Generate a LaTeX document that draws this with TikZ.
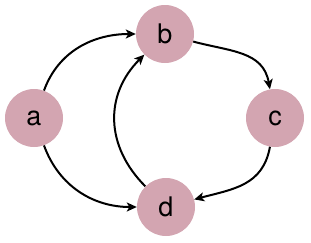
\documentclass[tikz,border=0pt]{standalone}
\usepackage{fontspec}
\setmainfont{TeX Gyre Heros}
\usetikzlibrary{arrows.meta}
\definecolor{nodepink}{RGB}{211,165,177}
\begin{document}
\begin{tikzpicture}[
    x=1pt, y=1pt,
    vertex/.style={circle, fill=nodepink, minimum size=58pt, inner sep=0pt,
        font=\fontsize{27}{27}\selectfont},
    edge/.style={line width=2pt, -{Stealth[length=10pt, width=9pt, inset=2.5pt]}}
]
    \useasboundingbox (0, 0) rectangle (311, 242);

    % Nodes
    \node[vertex] (a) at (34, 124) {a};
    \node[vertex] (b) at (165, 208) {b};
    \node[vertex] (c) at (275, 124) {c};
    \node[vertex] (d) at (166, 35) {d};

    % Edges
    \draw[edge] (a) to[out=70, in=180] (b);
    \draw[edge] (a) to[out=-70, in=180] (d);
    \draw[edge] (b) to[out=-15, in=100, looseness=1.1] (c);
    \draw[edge] (c) to[out=-100, in=15, looseness=1.1] (d);
    \draw[edge] (d) to[out=135, in=-135, looseness=1.1] (b);
\end{tikzpicture}
\end{document}
